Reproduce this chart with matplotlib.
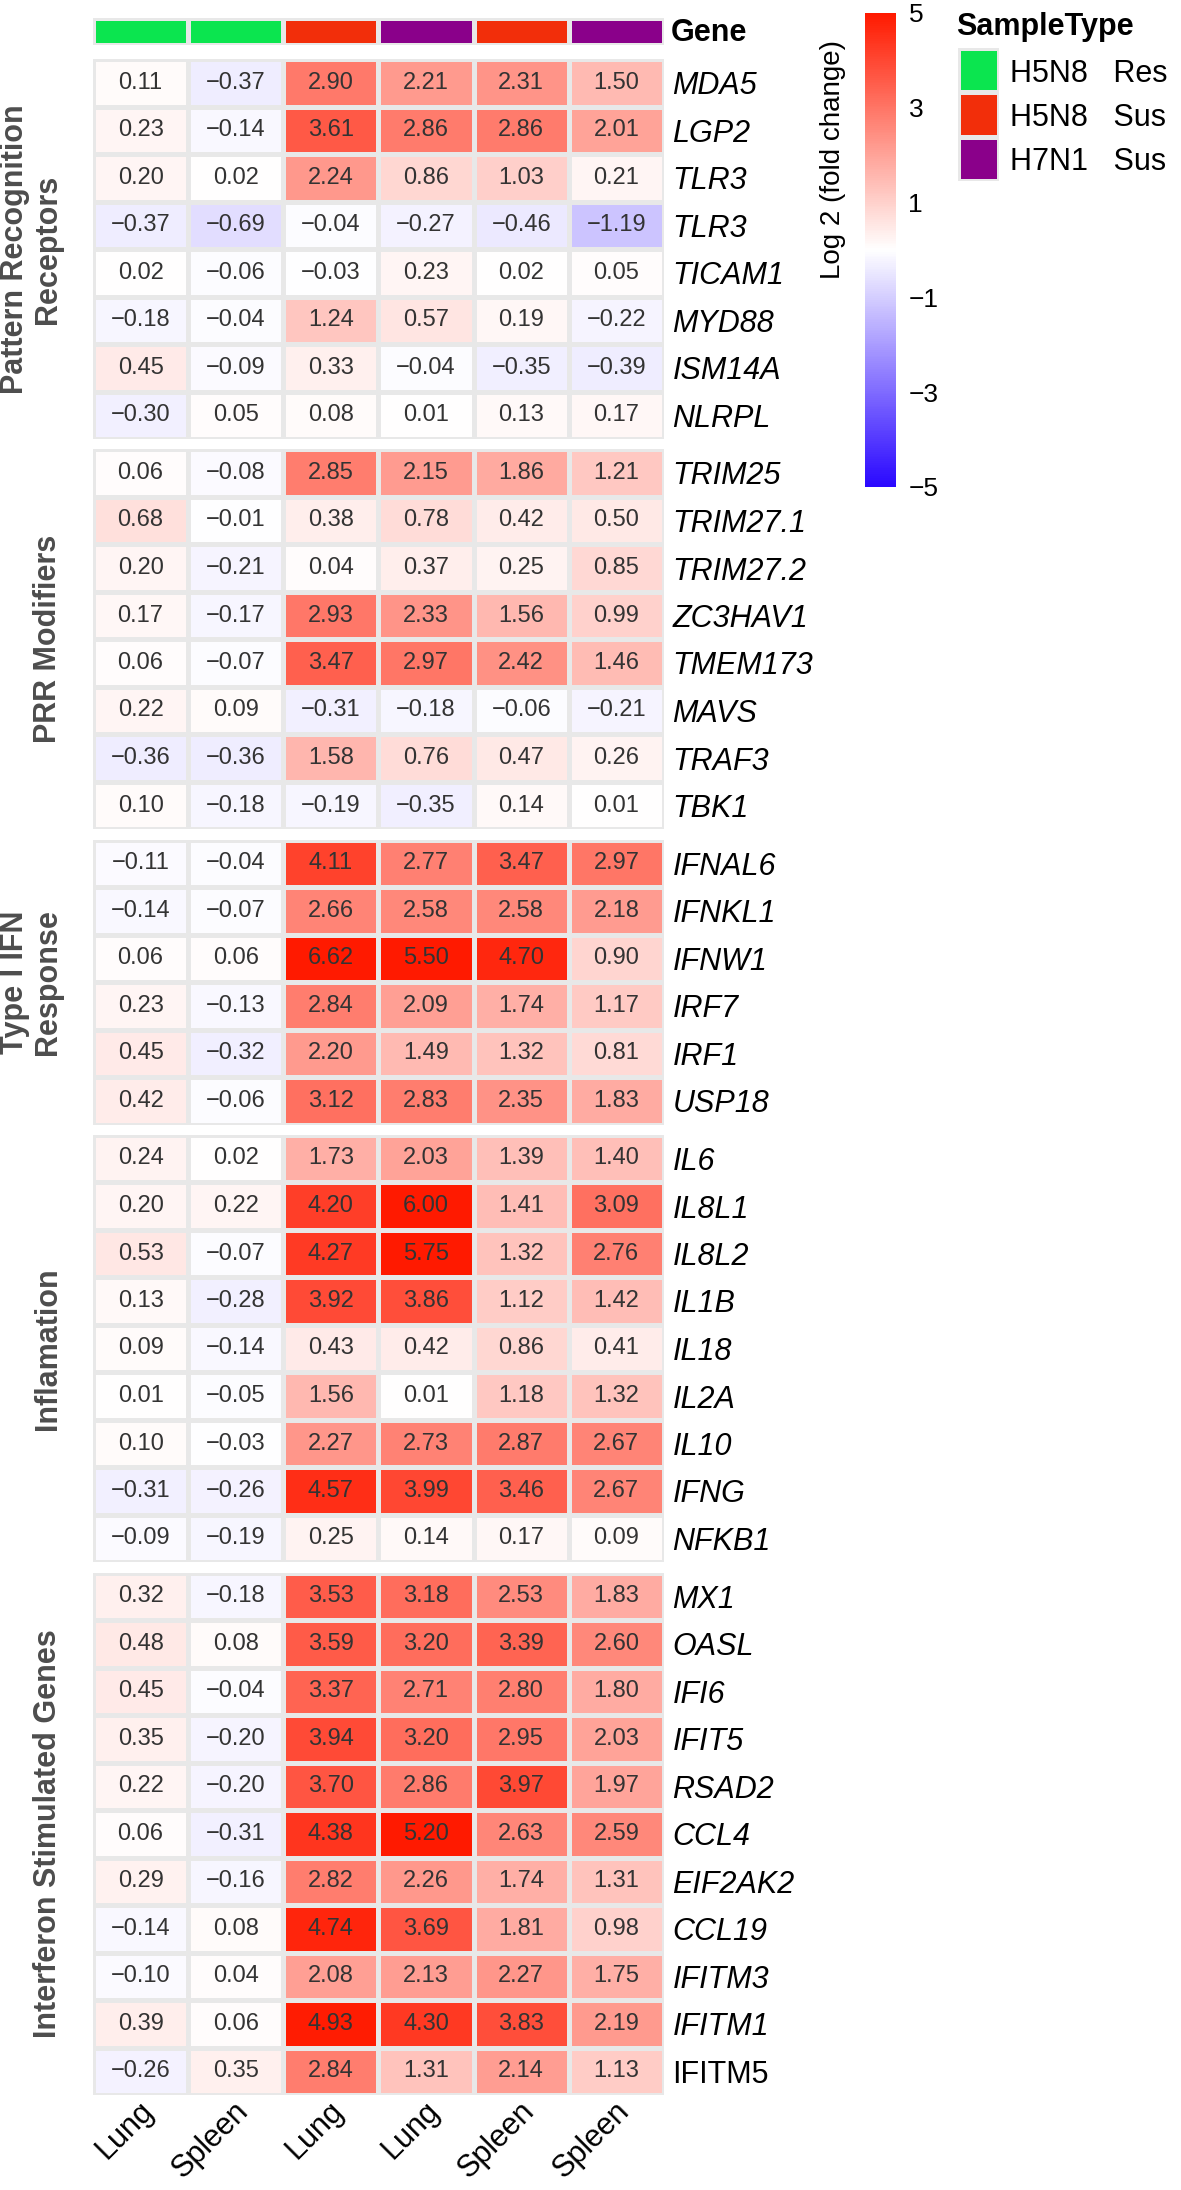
import numpy as np
import matplotlib
matplotlib.use("Agg")
import matplotlib.pyplot as plt
from matplotlib.colors import ListedColormap, Normalize, LinearSegmentedColormap
from matplotlib.cm import ScalarMappable

plt.rcParams['font.family'] = ['Liberation Sans', 'DejaVu Sans']

# ---------------- data ----------------
columns = ["Lung", "Spleen", "Lung", "Lung", "Spleen", "Spleen"]
sample_type = ["H5N8   Res", "H5N8   Res", "H5N8   Sus", "H7N1   Sus", "H5N8   Sus", "H7N1   Sus"]
sample_levels = ["H5N8   Res", "H5N8   Sus", "H7N1   Sus"]
sample_colors = ["#0BE54F", "#F22E0A", "#8A008A"]

group_names = ["Pattern Recognition\nReceptors", "PRR Modifiers", "Type I IFN\nResponse",
               "Inflamation", "Interferon Stimulated Genes"]

genes_prr = ["MDA5", "LGP2", "TLR3", "TLR3", "TICAM1", "MYD88", "ISM14A", "NLRPL"]
values_prr = [
    [0.11, -0.37, 2.90, 2.21, 2.31, 1.50],
    [0.23, -0.14, 3.61, 2.86, 2.86, 2.01],
    [0.20, 0.02, 2.24, 0.86, 1.03, 0.21],
    [-0.37, -0.69, -0.04, -0.27, -0.46, -1.19],
    [0.02, -0.06, -0.03, 0.23, 0.02, 0.05],
    [-0.18, -0.04, 1.24, 0.57, 0.19, -0.22],
    [0.45, -0.09, 0.33, -0.04, -0.35, -0.39],
    [-0.30, 0.05, 0.08, 0.01, 0.13, 0.17],
]

genes_mod = ["TRIM25", "TRIM27.1", "TRIM27.2", "ZC3HAV1", "TMEM173", "MAVS", "TRAF3", "TBK1"]
values_mod = [
    [0.06, -0.08, 2.85, 2.15, 1.86, 1.21],
    [0.68, -0.01, 0.38, 0.78, 0.42, 0.50],
    [0.20, -0.21, 0.04, 0.37, 0.25, 0.85],
    [0.17, -0.17, 2.93, 2.33, 1.56, 0.99],
    [0.06, -0.07, 3.47, 2.97, 2.42, 1.46],
    [0.22, 0.09, -0.31, -0.18, -0.06, -0.21],
    [-0.36, -0.36, 1.58, 0.76, 0.47, 0.26],
    [0.10, -0.18, -0.19, -0.35, 0.14, 0.01],
]

genes_ifn = ["IFNAL6", "IFNKL1", "IFNW1", "IRF7", "IRF1", "USP18"]
values_ifn = [
    [-0.11, -0.04, 4.11, 2.77, 3.47, 2.97],
    [-0.14, -0.07, 2.66, 2.58, 2.58, 2.18],
    [0.06, 0.06, 6.62, 5.50, 4.70, 0.90],
    [0.23, -0.13, 2.84, 2.09, 1.74, 1.17],
    [0.45, -0.32, 2.20, 1.49, 1.32, 0.81],
    [0.42, -0.06, 3.12, 2.83, 2.35, 1.83],
]

genes_inf = ["IL6", "IL8L1", "IL8L2", "IL1B", "IL18", "IL2A", "IL10", "IFNG", "NFKB1"]
values_inf = [
    [0.24, 0.02, 1.73, 2.03, 1.39, 1.40],
    [0.20, 0.22, 4.20, 6.00, 1.41, 3.09],
    [0.53, -0.07, 4.27, 5.75, 1.32, 2.76],
    [0.13, -0.28, 3.92, 3.86, 1.12, 1.42],
    [0.09, -0.14, 0.43, 0.42, 0.86, 0.41],
    [0.01, -0.05, 1.56, 0.01, 1.18, 1.32],
    [0.10, -0.03, 2.27, 2.73, 2.87, 2.67],
    [-0.31, -0.26, 4.57, 3.99, 3.46, 2.67],
    [-0.09, -0.19, 0.25, 0.14, 0.17, 0.09],
]

genes_isg = ["MX1", "OASL", "IFI6", "IFIT5", "RSAD2", "CCL4", "EIF2AK2", "CCL19",
             "IFITM3", "IFITM1", "IFITM5"]
values_isg = [
    [0.32, -0.18, 3.53, 3.18, 2.53, 1.83],
    [0.48, 0.08, 3.59, 3.20, 3.39, 2.60],
    [0.45, -0.04, 3.37, 2.71, 2.80, 1.80],
    [0.35, -0.20, 3.94, 3.20, 2.95, 2.03],
    [0.22, -0.20, 3.70, 2.86, 3.97, 1.97],
    [0.06, -0.31, 4.38, 5.20, 2.63, 2.59],
    [0.29, -0.16, 2.82, 2.26, 1.74, 1.31],
    [-0.14, 0.08, 4.74, 3.69, 1.81, 0.98],
    [-0.10, 0.04, 2.08, 2.13, 2.27, 1.75],
    [0.39, 0.06, 4.93, 4.30, 3.83, 2.19],
    [-0.26, 0.35, 2.84, 1.31, 2.14, 1.13],
]
upright_genes = ["IFITM5"]

cbar_ticks = [5, 3, 1, -1, -3, -5]

groups = [(group_names[0], genes_prr, values_prr),
          (group_names[1], genes_mod, values_mod),
          (group_names[2], genes_ifn, values_ifn),
          (group_names[3], genes_inf, values_inf),
          (group_names[4], genes_isg, values_isg)]

# ---------------- colour map ----------------
cmap = LinearSegmentedColormap.from_list(
    "bwr_ref", [(0.0, "#2A08FF"), (0.5, "#FFFFFF"), (1.0, "#FF1A00")], N=256)
norm = Normalize(vmin=-5, vmax=5)

# ---------------- layout ----------------
W, H = 1181, 2190
fig = plt.figure(figsize=(W / 100, H / 100), dpi=100)


def ax_px(x0, y0, x1, y1):
    return fig.add_axes([x0 / W, 1 - y1 / H, (x1 - x0) / W, (y1 - y0) / H])


X0, X1 = 93, 664
row_h = 47.5
gap = 10.25
top0 = 59
edge_col = "#E8E8E8"
edge_lw = 2.2
cell_fs = 17
gene_fs = 22
txt_col = "#333333"
grp_col = "#4D4D4D"

# annotation bar
ax_ann = ax_px(X0, 18, X1, 45)
ann_idx = np.array([[sample_levels.index(s) for s in sample_type]])
ax_ann.pcolormesh(ann_idx, cmap=ListedColormap(sample_colors), vmin=-0.5, vmax=2.5,
                  edgecolors=edge_col, linewidth=edge_lw)
ax_ann.set_xlim(0, len(columns))
ax_ann.set_ylim(1, 0)
ax_ann.set_xticks([])
ax_ann.set_yticks([])
for sp in ax_ann.spines.values():
    sp.set_visible(False)
ax_ann.annotate("Gene", xy=(1, 0.5), xycoords="axes fraction", xytext=(5, -1),
                textcoords="offset points", ha="left", va="center",
                fontsize=22, fontweight="bold", color="black")

y = top0
last_ax = None
last_n = 0
for name, genes, vals in groups:
    arr = np.array(vals)
    n = arr.shape[0]
    y1 = y + n * row_h
    ax = ax_px(X0, y, X1, y1)
    ax.pcolormesh(arr, cmap=cmap, norm=norm, edgecolors=edge_col, linewidth=edge_lw)
    ax.set_xlim(0, arr.shape[1])
    ax.set_ylim(n, 0)
    for i in range(n):
        for j in range(arr.shape[1]):
            v = arr[i, j]
            s = f"{v:.2f}".replace("-", "\u2212")
            ax.text(j + 0.5, i + 0.5, s, ha="center", va="center",
                    fontsize=cell_fs, color=txt_col)
    ax.yaxis.tick_right()
    ax.set_yticks(np.arange(n) + 0.5)
    ax.set_yticklabels(genes, fontsize=gene_fs)
    for lab, g in zip(ax.get_yticklabels(), genes):
        lab.set_fontstyle("normal" if g in upright_genes else "italic")
    ax.tick_params(axis="y", length=0, pad=6)
    ax.set_xticks([])
    for sp in ax.spines.values():
        sp.set_visible(False)
    fig.text(63 / W, 1 - (y + y1) / 2 / H, name, rotation=90, ha="right", va="center",
             multialignment="center", fontsize=22, fontweight="bold", color=grp_col,
             linespacing=1.15)
    last_ax = ax
    last_n = n
    y = y1 + gap

# column names, rotated 45 degrees
for j, col in enumerate(columns):
    last_ax.annotate(col, xy=(j + 0.5, last_n), xycoords="data",
                     xytext=(6, -8), textcoords="offset points",
                     rotation=45, rotation_mode="anchor", ha="right", va="center",
                     fontsize=gene_fs, color="black", annotation_clip=False)

# colour bar
cax = ax_px(865, 13, 896, 487)
sm = ScalarMappable(norm=norm, cmap=cmap)
cb = fig.colorbar(sm, cax=cax, ticks=cbar_ticks)
cb.outline.set_visible(False)
cax.tick_params(length=0, labelsize=19, pad=9)
fig.text(833 / W, 1 - 40 / H, "Log 2 (fold change)", rotation=90, ha="center", va="top",
         fontsize=20, color="black")

# legend
fig.text(956 / W, 1 - 27 / H, "SampleType", ha="left", va="center",
         fontsize=22, fontweight="bold", color="black")
ax_leg = ax_px(958, 48, 999, 181)
ax_leg.pcolormesh(np.arange(len(sample_levels)).reshape(-1, 1),
                  cmap=ListedColormap(sample_colors), vmin=-0.5, vmax=2.5,
                  edgecolors=edge_col, linewidth=edge_lw)
ax_leg.set_xlim(0, 1)
ax_leg.set_ylim(len(sample_levels), 0)
ax_leg.set_xticks([])
ax_leg.yaxis.tick_right()
ax_leg.set_yticks(np.arange(len(sample_levels)) + 0.5)
ax_leg.set_yticklabels(sample_levels, fontsize=22)
ax_leg.tick_params(axis="y", length=0, pad=8)
for sp in ax_leg.spines.values():
    sp.set_visible(False)

fig.savefig("out.png", dpi=100, facecolor="white")
